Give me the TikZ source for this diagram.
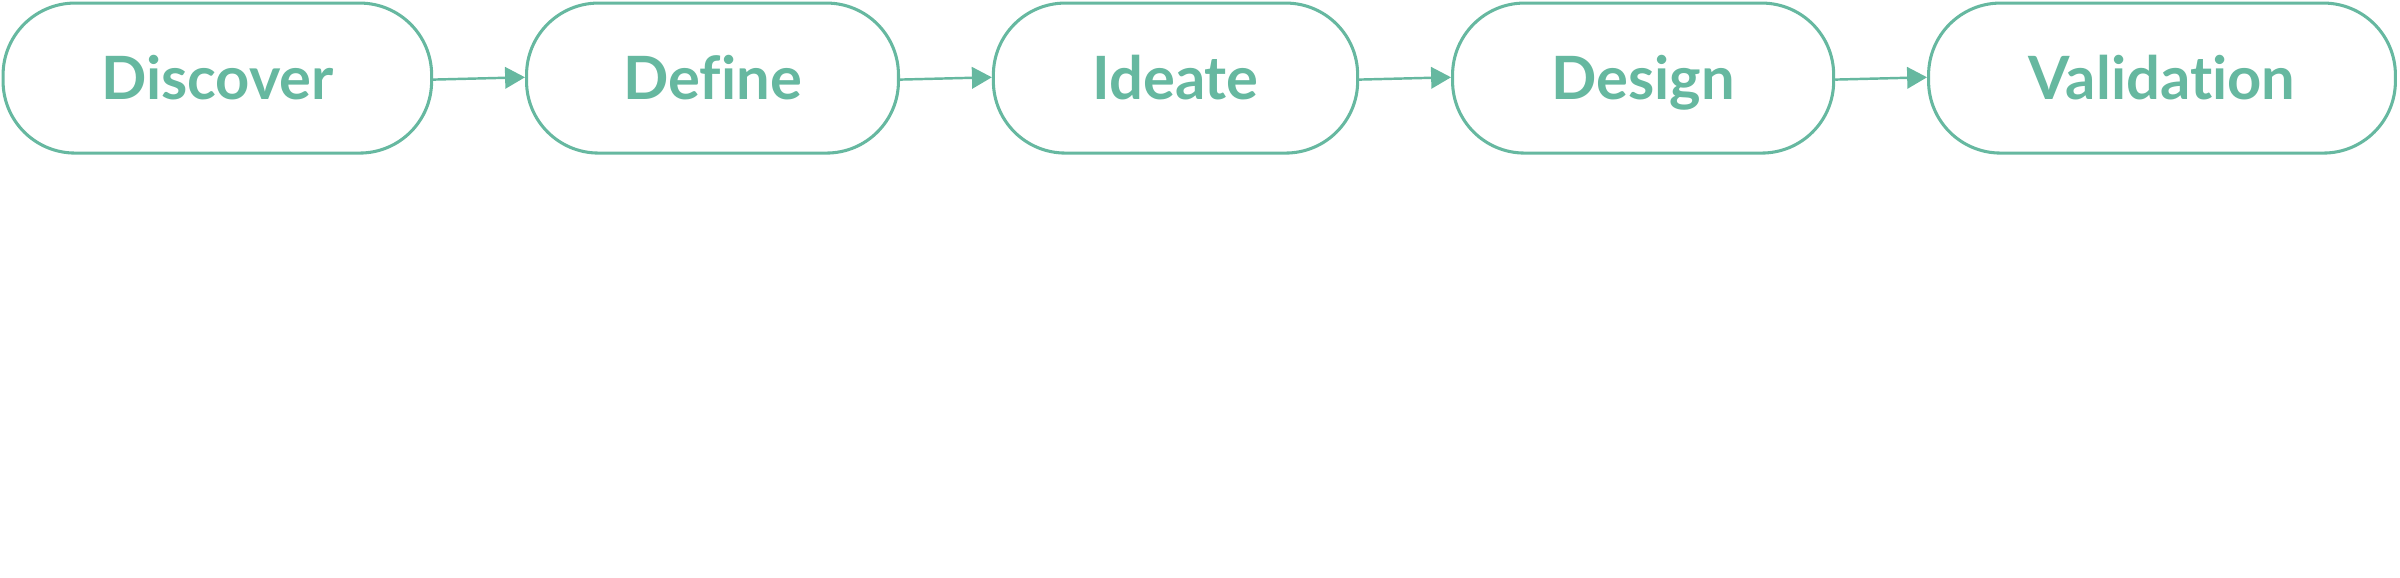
\documentclass[tikz,border=0pt]{standalone}
\usepackage{fontspec}
\setmainfont{Lato}[Ligatures=CommonOff]
\usetikzlibrary{arrows.meta}
\definecolor{teal}{RGB}{102,184,160}
\begin{document}
\begin{tikzpicture}[x=1pt,y=-1pt,
  stage/.style={draw=teal,line width=2pt,fill=white,rounded corners=47pt,
    minimum height=98pt,inner sep=0pt,text=teal,text height=28pt,text depth=0pt,
    font=\fontsize{39}{43}\selectfont\bfseries},
  flow/.style={draw=teal,line width=1.6pt,-{Triangle[length=13pt,width=14pt]}}]
\useasboundingbox (0,0) rectangle (1568,377);
\node[stage,minimum width=280pt] (d1) at (142,51) {Discover};
\node[stage,minimum width=243pt] (d2) at (465.5,51) {Define};
\node[stage,minimum width=238pt] (d3) at (768,51) {Ideate};
\node[stage,minimum width=249pt] (d4) at (1073.5,51) {Design};
\node[stage,minimum width=305pt] (d5) at (1412.5,51) {Validation};
\draw[flow] ([yshift=-1pt]d1.east) -- ([yshift=0.5pt]d2.west);
\draw[flow] ([yshift=-1pt]d2.east) -- ([yshift=0.5pt]d3.west);
\draw[flow] ([yshift=-1pt]d3.east) -- ([yshift=0.5pt]d4.west);
\draw[flow] ([yshift=-1pt]d4.east) -- ([yshift=0.5pt]d5.west);
\end{tikzpicture}
\end{document}
